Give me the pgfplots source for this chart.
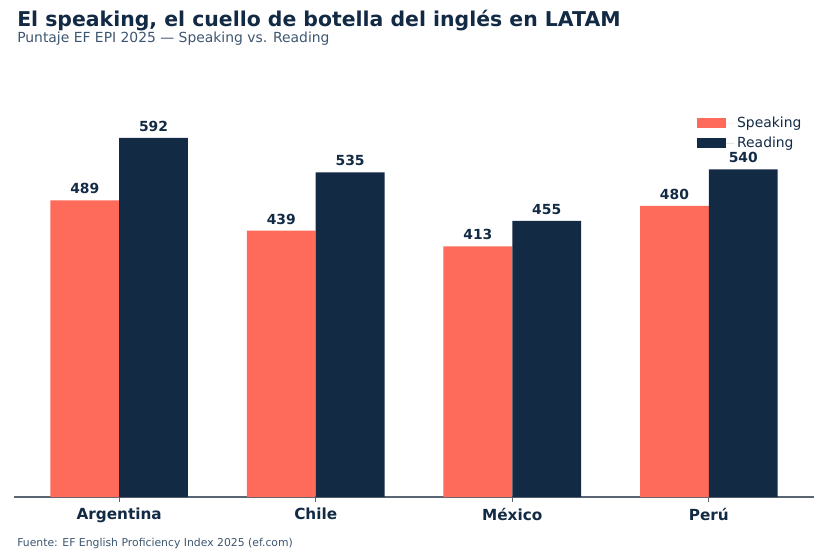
\documentclass[border=0pt]{standalone}
\usepackage{pgfplots}
\pgfplotsset{compat=1.18}
\usepackage{fontspec}
\setmainfont{DejaVu Sans}
\definecolor{coral}{HTML}{FF6B5B}
\definecolor{navy}{HTML}{132A45}
\definecolor{subt}{HTML}{3D5670}
\definecolor{spine}{HTML}{5A6472}
\begin{document}
\begin{tikzpicture}
\useasboundingbox (0,0) rectangle (596.16pt,397.44pt);
\node[anchor=base west,inner sep=0pt,text=navy,font=\fontsize{14.7}{17}\selectfont\bfseries] at (12.24pt,378.72pt) {El speaking, el cuello de botella del inglés en LATAM};
\node[anchor=base west,inner sep=0pt,text=subt,font=\fontsize{10}{12}\selectfont] at (12.24pt,367.2pt) {Puntaje EF EPI 2025 — Speaking vs. Reading};
\node[anchor=base west,inner sep=0pt,text=subt,font=\fontsize{7.8}{10}\selectfont] at (12.24pt,4.32pt) {Fuente: EF English Proficiency Index 2025 (ef.com)};
\begin{axis}[
  at={(10.08pt,39.6pt)}, anchor=south west,
  scale only axis, width=576pt, height=297.4pt,
  xmin=-0.535, xmax=3.535, ymin=0, ymax=680.8,
  axis y line=none, axis x line=bottom,
  axis line style={-,spine,line width=0.8pt},
  xtick={0,1,2,3}, xticklabels={Argentina,Chile,México,Perú},
  xticklabel style={text=navy,font=\fontsize{11}{13}\selectfont\bfseries,yshift=-1pt},
  major tick length=3.5pt, tick style={spine,line width=0.8pt},
  tick align=outside,
  ybar, bar width=0.35,
  nodes near coords={\pgfmathprintnumber[assume math mode=true]{\pgfplotspointmeta}},
  every node near coord/.append style={anchor=south,inner sep=0pt,yshift=4.3pt,text=navy,font=\fontsize{10}{12}\selectfont\bfseries},
  legend style={at={(rel axis cs:0.988,0.928)},anchor=north east,draw=none,fill=none,
    font=\fontsize{10}{12}\selectfont,text=navy,row sep=1.5pt,inner sep=0pt},
  legend cell align=left,
  legend image code/.code={\fill[#1] (0pt,-3.6pt) rectangle (21pt,3.6pt); \path (0pt,0pt) -- (27pt,0pt);},
]
\addplot[fill=coral,draw=none,bar shift=-0.175] coordinates {(0,489) (1,439) (2,413) (3,480)};
\addlegendentry{Speaking}
\addplot[fill=navy,draw=none,bar shift=0.175] coordinates {(0,592) (1,535) (2,455) (3,540)};
\addlegendentry{Reading}
\end{axis}
\end{tikzpicture}
\end{document}
